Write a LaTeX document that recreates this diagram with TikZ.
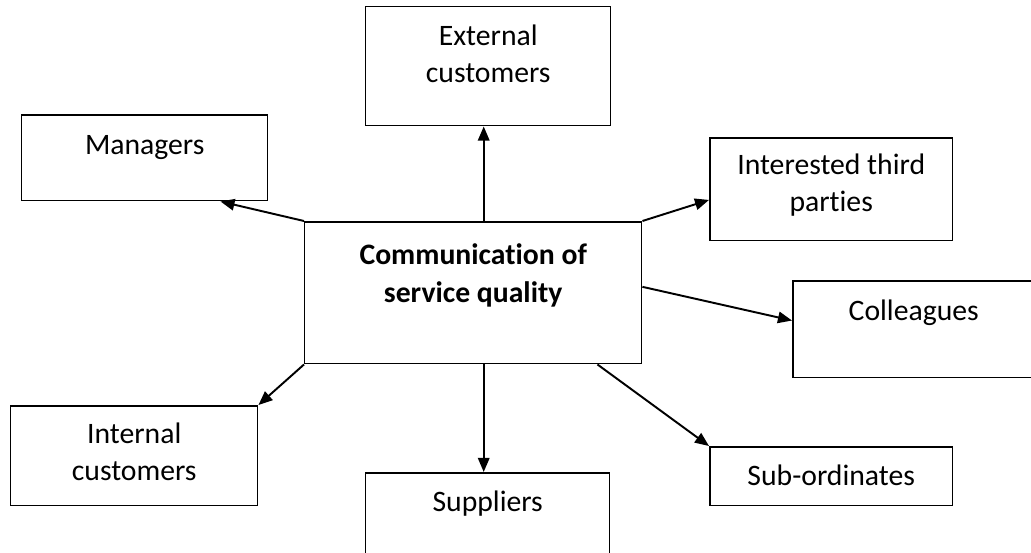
\documentclass[tikz,border=0pt]{standalone}
\usepackage{fontspec}
\setmainfont[Ligatures=NoCommon]{Carlito}
\usetikzlibrary{arrows.meta,calc}

\begin{document}
\begin{tikzpicture}[x=0.02cm, y=-0.02cm,
    box/.style={draw, line width=0.85pt, anchor=north west, inner sep=0pt},
    lbl/.style={anchor=base, align=center, inner sep=0pt,
      font=\fontsize{16.9}{20.6}\selectfont},
    arr/.style={line width=1.1pt, -{Triangle[length=8pt, width=6.5pt]}}]
  \useasboundingbox (0,0) rectangle (1031,552);

  % boxes
  \node [box, minimum width=6.74cm, minimum height=2.84cm] (comm) at (304,221) {};
  \node [box, minimum width=4.90cm, minimum height=2.38cm] (ext) at (365,6) {};
  \node [box, minimum width=4.92cm, minimum height=1.72cm] (mgr) at (21,114) {};
  \node [box, minimum width=4.86cm, minimum height=2.06cm] (third) at (709,137) {};
  \node [box, minimum width=4.96cm, minimum height=1.94cm] (coll) at (792,280) {};
  \node [box, minimum width=4.94cm, minimum height=2.00cm] (intc) at (10,405) {};
  \node [box, minimum width=4.88cm, minimum height=1.86cm] (supp) at (365,472) {};
  \node [box, minimum width=4.86cm, minimum height=1.18cm] (sub) at (709,446) {};

  % texts (base = last line)
  \node [lbl, font=\fontsize{16.9}{21.4}\selectfont\bfseries] (comm-t) at ($(comm.north)+(0,81)$) {Communication of\\service quality};
  \node [lbl] (ext-t) at ($(ext.north)+(0,76)$) {External\\customers};
  \node [lbl] (mgr-t) at ($(mgr.north)+(0,40)$) {Managers};
  \node [lbl] (third-t) at ($(third.north)+(0,74)$) {Interested third\\parties};
  \node [lbl] (coll-t) at ($(coll.north)+(-3,40)$) {Colleagues};
  \node [lbl] (intc-t) at ($(intc.north)+(0,75)$) {Internal\\customers};
  \node [lbl] (supp-t) at ($(supp.north)+(0,39)$) {Suppliers};
  \node [lbl] (sub-t) at ($(sub.north)+(0,39)$) {Sub-ordinates};

  % arrows
  \draw [arr] (comm.north west) -- (mgr.-30);
  \draw [arr] ([xshift=0.21cm]comm.north) -- ([xshift=0.21cm]comm.north |- ext.south);
  \draw [arr] (comm.north east) -- (third.185);
  \draw [arr] (comm.2) -- (coll.176);
  \draw [arr] (comm.south west) -- (intc.north east);
  \draw [arr] ([xshift=0.21cm]comm.south) -- ([xshift=0.21cm]comm.south |- supp.north);
  \draw [arr] (comm.-30) -- (sub.north west);
\end{tikzpicture}
\end{document}
